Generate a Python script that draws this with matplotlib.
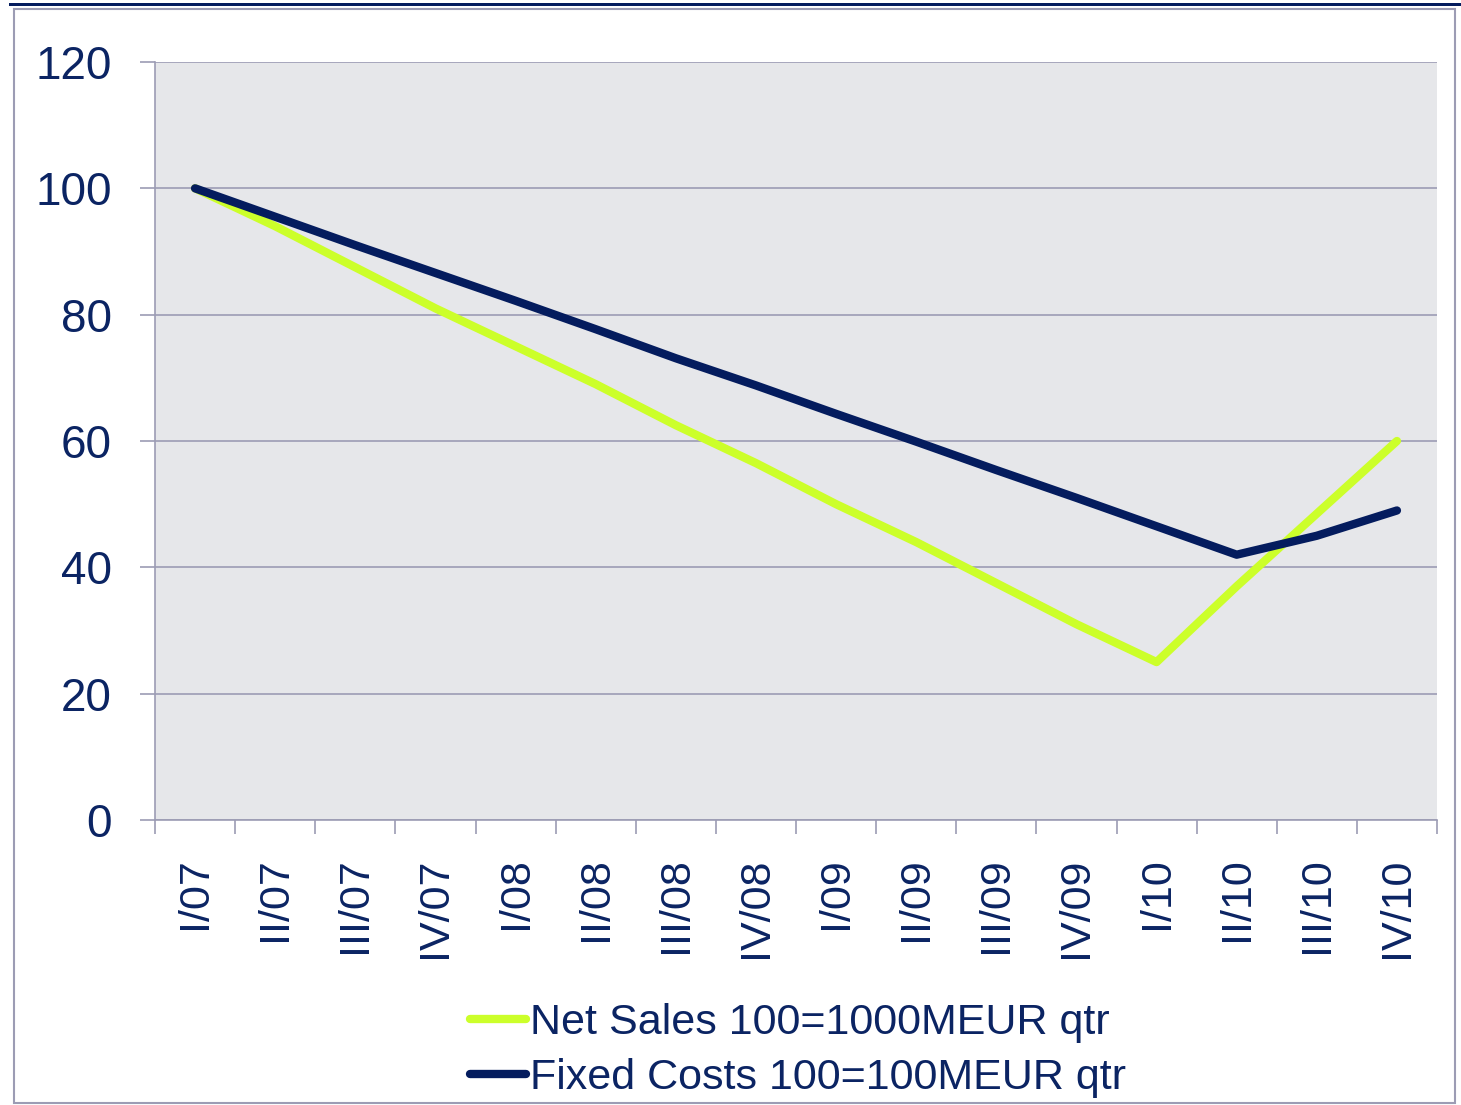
import matplotlib
matplotlib.use("Agg")
import matplotlib.pyplot as plt
from matplotlib.patches import Rectangle
from matplotlib.lines import Line2D
import numpy as np

quarters = ["I/07", "II/07", "III/07", "IV/07", "I/08", "II/08", "III/08", "IV/08",
            "I/09", "II/09", "III/09", "IV/09", "I/10", "II/10", "III/10", "IV/10"]
net_sales = [100, 94, 87.5, 81, 75, 69, 62.5, 56.5, 50, 44, 37.5, 31, 25, 37, 48.5, 60]
fixed_costs = [100, 95.5, 91, 86.6, 82.2, 77.7, 73.1, 68.8, 64.3, 59.9, 55.4, 51, 46.5, 42, 45, 49]
yticks = [0, 20, 40, 60, 80, 100, 120]

NAVY = "#0B2463"
LINE_NAVY = "#041C5E"
GREEN = "#CCFF2A"
GRID = "#9C9CB4"
BG = "#E6E7EA"

plt.rcParams['font.family'] = ['Liberation Sans', 'DejaVu Sans']

fig = plt.figure(figsize=(14.61, 11.05), dpi=100)
W, H = 1461, 1105
ax = fig.add_axes([155 / W, 1 - 820 / H, (1437 - 155) / W, (820 - 62) / H])
ax.set_facecolor(BG)

x = np.arange(len(quarters)) + 0.5
l1, = ax.plot(x, net_sales, color=GREEN, lw=6, solid_capstyle='round', solid_joinstyle='round',
              label="Net Sales 100=1000MEUR qtr", zorder=3)
l2, = ax.plot(x, fixed_costs, color=LINE_NAVY, lw=6, solid_capstyle='round', solid_joinstyle='round',
              label="Fixed Costs 100=100MEUR qtr", zorder=4)

ax.set_xlim(0, len(quarters))
ax.set_ylim(0, 120)
ax.set_yticks(yticks)
ax.set_yticklabels([str(v) for v in yticks])
ax.yaxis.grid(True, color=GRID, lw=1.2)
ax.set_axisbelow(True)

ax.set_xticks(x)
ax.set_xticklabels(quarters, rotation=90, va='top', ha='center')
ax.set_xticks(np.arange(len(quarters) + 1), minor=True)
ax.tick_params(axis='x', which='major', length=0, pad=27, labelsize=31, labelcolor=NAVY)
ax.tick_params(axis='x', which='minor', length=10, width=1.2, color=GRID, direction='out')
ax.tick_params(axis='y', length=11, width=1.2, color=GRID, pad=20, labelsize=33, labelcolor=NAVY)

for s in ['top', 'right']:
    ax.spines[s].set_visible(False)
for s in ['left', 'bottom']:
    ax.spines[s].set_color(GRID)
    ax.spines[s].set_linewidth(1.2)

handles = [Line2D([0], [0], color=GREEN, lw=6, solid_capstyle='round'),
           Line2D([0], [0], color=LINE_NAVY, lw=6, solid_capstyle='round')]
leg = fig.legend(handles, [l1.get_label(), l2.get_label()], loc='center',
                 bbox_to_anchor=(0.546, 0.049), frameon=False, fontsize=31,
                 handlelength=1.3, handletextpad=0.1, labelspacing=0.35)
for t in leg.get_texts():
    t.set_color(NAVY)

# figure decorations: top navy rule and grey frame
fig.add_artist(Rectangle((9 / W, 1 - 6 / H), (W - 9) / W, 3 / H, transform=fig.transFigure,
                         facecolor=LINE_NAVY, edgecolor='none'))
fig.add_artist(Rectangle((14 / W, 1 - 1103 / H), (1455 - 14) / W, (1103 - 9) / H,
                         transform=fig.transFigure, facecolor='none', edgecolor=GRID, lw=1.5))

fig.savefig("out.png", dpi=100)
